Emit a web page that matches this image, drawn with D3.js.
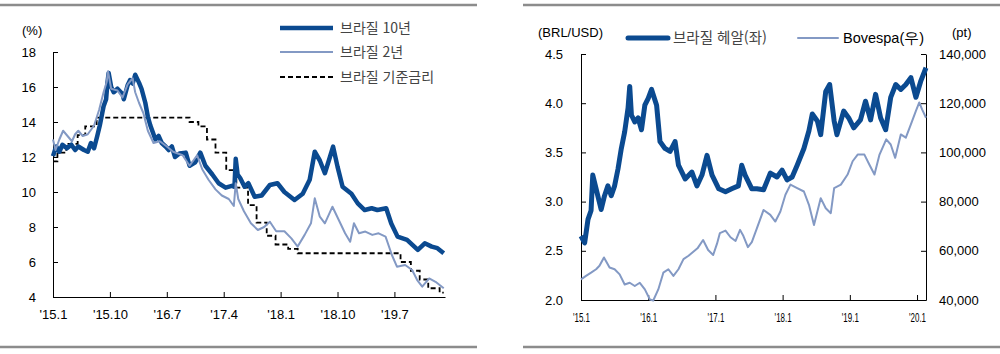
<!DOCTYPE html>
<html lang="ko">
<head>
<meta charset="UTF-8">
<title>Brazil rates, BRL and Bovespa</title>
<script src="https://d3js.org/d3.v7.min.js"></script>
<style>
  body { margin: 0; background: #fff; }
  svg text { font-family: "Liberation Sans", Arial, sans-serif; fill: #000; }
  .kr { font-family: "Noto Sans CJK KR", "Liberation Sans", sans-serif; fill: #444; }
</style>
</head>
<body>
<div id="chart"></div>
<script>
// months counted from Jan 2015 (0 = '15.1)
const br10 = [[0,12.05],[0.5,12.6],[1,12.3],[1.5,12.7],[2.2,12.5],[2.9,12.7],[3.5,12.4],[4,12.6],[4.9,12.4],[5.5,12.3],[6,12.8],[6.5,12.5],[7,13.2],[7.4,13.8],[8,14.9],[8.4,15.3],[8.6,16.2],[8.8,16.8],[9.2,16.0],[9.6,15.7],[10.2,15.9],[11,15.6],[11.2,15.3],[11.8,16.1],[12.2,16.4],[12.6,16.2],[13,16.7],[13.6,16.25],[14,15.9],[14.6,15.1],[15,14.3],[15.4,13.8],[16.2,13.0],[16.7,13.2],[17.2,12.8],[17.8,12.6],[18.3,12.4],[18.8,12.6],[19.3,12.0],[20,12.2],[21,12.25],[21.6,11.5],[22.5,11.7],[23.3,12.25],[24.1,11.5],[25.2,11.0],[26.2,10.5],[27.3,10.25],[28.3,10.35],[28.7,10.3],[28.9,11.9],[29.2,11.0],[29.6,10.8],[30.3,10.3],[30.9,10.5],[31.9,9.73],[33,9.8],[34.3,10.4],[35.5,10.5],[36.6,10.0],[38.2,9.54],[39.5,9.9],[40.6,10.7],[41.4,12.3],[42.2,11.8],[43,11.07],[43.8,12.0],[44.3,12.59],[45,11.45],[45.8,10.3],[46.5,10.1],[47.2,9.9],[48.2,9.35],[49.3,8.97],[50.4,9.07],[51.3,8.97],[52.7,9.07],[53.5,8.2],[54.5,7.45],[56,7.26],[57.7,6.69],[58.8,7.07],[59.9,6.88],[60.8,6.79],[61.8,6.5]];
const br2 = [[0,13.0],[0.4,12.4],[1,13.0],[1.6,13.5],[2.3,13.2],[3,12.9],[3.5,13.3],[4,13.5],[4.7,13.2],[5.5,13.3],[6.5,13.8],[7.3,14.7],[8,15.7],[8.5,16.3],[8.7,16.9],[9.2,15.9],[10.2,15.8],[11,15.4],[11.8,16.15],[12.6,16.5],[13,15.7],[13.6,15.1],[14.3,14.5],[15,13.5],[15.9,12.8],[16.9,12.9],[18,12.6],[19,12.3],[20.5,12.1],[21.6,11.5],[22.8,12.1],[23.6,11.3],[24.6,10.7],[25.7,10.15],[26.7,9.8],[27.8,9.6],[28.6,9.2],[28.9,10.5],[29.3,9.6],[30.2,8.9],[31.3,8.21],[32.4,7.83],[33.4,8.0],[34.3,8.3],[35.3,7.76],[36.6,7.76],[37.7,7.35],[38.7,6.88],[39.8,7.55],[40.8,8.21],[41.4,9.64],[42.2,8.59],[43,8.21],[44.2,9.16],[45.2,8.4],[46.2,7.64],[47,7.16],[47.6,8.21],[48.4,7.64],[49.4,7.74],[50.5,7.55],[51.5,7.64],[52.6,7.45],[53.6,6.4],[54.4,5.73],[55.7,5.83],[56.8,5.54],[57.6,4.97],[58.4,4.59],[59.5,5.06],[60.5,4.87],[61.8,4.5]];
const selic = [[0,11.75],[0.7,12.25],[2.1,12.75],[3.9,13.25],[5.1,13.75],[6.9,14.25],[21.6,14.0],[23,13.75],[24.35,13.0],[25.7,12.25],[27.4,11.25],[29,10.25],[30.85,9.25],[32.2,8.25],[33.8,7.5],[35.2,7.0],[37.2,6.75],[38.7,6.5],[54.97,6.0],[56.6,5.5],[58,5.0],[59.35,4.5],[61.15,4.25],[61.8,4.25]];
const leftTickMonths = [0, 9, 18, 27, 36, 45, 54];
const leftTickLabels = ["'15.1", "'15.10", "'16.7", "'17.4", "'18.1", "'18.10", "'19.7"];
const leftSeriesNames = ["브라질 10년", "브라질 2년", "브라질 기준금리"];

const brl = [[0,2.65],[0.65,2.58],[1.25,2.82],[1.8,2.91],[2.1,3.27],[2.7,3.13],[3.6,2.92],[4.2,3.06],[4.8,3.16],[5.4,3.06],[6,3.16],[6.6,3.33],[7.2,3.54],[7.8,3.71],[8.4,3.95],[8.7,4.17],[9,3.88],[9.6,3.81],[10.2,3.85],[10.8,3.73],[11.4,3.98],[12,4.05],[12.6,4.14],[13.5,3.98],[14.1,3.61],[15,3.54],[15.9,3.51],[16.8,3.61],[17.4,3.37],[18.6,3.23],[19.8,3.30],[20.7,3.16],[21.6,3.27],[22.5,3.47],[23.4,3.27],[24.6,3.13],[25.8,3.10],[26.9,3.13],[28.1,3.16],[28.7,3.37],[29.3,3.27],[30.5,3.13],[31.4,3.13],[32.6,3.12],[33.8,3.29],[35,3.25],[35.9,3.32],[36.8,3.22],[37.7,3.25],[38.6,3.37],[39.8,3.54],[40.7,3.72],[41.3,3.89],[42.2,3.82],[42.8,3.68],[43.7,4.12],[44.4,4.19],[45.2,3.82],[45.7,3.68],[46.9,3.92],[47.8,3.85],[48.7,3.75],[49.9,3.83],[50.8,4.02],[51.7,3.83],[52.6,4.09],[53.5,3.85],[54.4,3.73],[55.3,4.06],[56.2,4.19],[57.1,4.14],[58,4.19],[58.9,4.26],[59.8,4.06],[60.7,4.23],[61.6,4.36]];
const bovespa = [[0,48400],[0.9,49800],[1.8,51100],[2.7,52500],[3.3,53900],[4.1,57300],[5.1,53200],[6,52500],[6.9,50400],[7.8,46300],[8.7,47000],[9.6,45700],[10.5,47000],[11.4,44300],[12.3,40200],[12.9,39800],[13.8,44300],[14.7,51100],[15.6,52500],[16.5,49800],[17.4,52500],[18.3,56600],[19.2,58000],[20,59500],[20.8,61000],[21.8,64400],[22.7,60300],[23.6,58300],[24.3,63000],[24.8,67200],[25.8,68200],[26.7,65500],[27.6,64000],[28.4,68500],[29,66000],[29.8,61500],[30.5,63500],[31.4,69100],[32.6,76600],[33.8,74600],[34.7,71900],[35.6,76000],[36.5,82800],[37.4,86900],[38.6,85500],[39.8,84100],[40.7,78700],[41.6,70500],[42.8,81400],[43.7,77300],[44.6,75300],[45.2,85500],[46.4,86900],[47.6,91000],[48.5,96400],[49.4,99100],[50.6,99100],[51.5,95000],[52.4,91000],[53.3,99100],[54.5,105300],[55.3,103200],[56.1,97800],[57.1,107300],[58,106000],[58.9,111400],[59.8,116900],[60.4,120300],[60.9,117500],[61.6,114100]];
const rightTickMonths = [0, 12, 24, 36, 48, 60];
const rightTickLabels = ["'15.1", "'16.1", "'17.1", "'18.1", "'19.1", "'20.1"];
const rightSeriesNames = ["브라질 헤알(좌)", "Bovespa(우)"];

const dark = "#0b4a90", light = "#8399c4", frame = "#8c8c8c";

const svg = d3.select("#chart").append("svg")
  .attr("width", 1000).attr("height", 354);

function styleAxis(g) {
  g.selectAll("text").attr("font-family", null).attr("font-size", 13).attr("fill", "#000");
  g.selectAll("line, path").attr("stroke", "#000");
}

// ---------- left panel ----------
svg.append("line").attr("x1", 0).attr("x2", 477).attr("y1", 5).attr("y2", 5)
  .attr("stroke", frame).attr("stroke-width", 2.5);
svg.append("line").attr("x1", 0).attr("x2", 477).attr("y1", 347).attr("y2", 347)
  .attr("stroke", frame).attr("stroke-width", 2.5);

const xL = d3.scaleLinear().domain([0, 62]).range([53, 445]);
const yL = d3.scaleLinear().domain([4, 18]).range([297, 52]);

svg.append("g").attr("transform", "translate(53,0)")
  .call(d3.axisLeft(yL).tickValues([4,6,8,10,12,14,16,18]).tickSize(-5).tickSizeOuter(0).tickPadding(17))
  .call(styleAxis);
svg.append("g").attr("transform", "translate(0,297)")
  .call(d3.axisBottom(xL).tickValues(leftTickMonths).tickFormat((d, i) => leftTickLabels[i])
    .tickSize(-5).tickSizeOuter(0).tickPadding(13))
  .call(styleAxis);

svg.append("text").attr("x", 22).attr("y", 35).attr("font-size", 13).text("(%)");

const lineL = d3.line().x(d => xL(d[0])).y(d => yL(d[1]));
svg.append("path").datum(selic).attr("fill", "none").attr("stroke", "#000")
  .attr("stroke-width", 1.8).attr("stroke-dasharray", "5,3")
  .attr("d", d3.line().curve(d3.curveStepAfter).x(d => xL(d[0])).y(d => yL(d[1])));
svg.append("path").datum(br10).attr("fill", "none").attr("stroke", dark)
  .attr("stroke-width", 4.5).attr("stroke-linejoin", "round").attr("d", lineL);
svg.append("path").datum(br2).attr("fill", "none").attr("stroke", light)
  .attr("stroke-width", 2).attr("stroke-linejoin", "round").attr("d", lineL);

// legend
const legL = [
  { y: 28, stroke: dark, w: 4.5, dash: null },
  { y: 52, stroke: light, w: 2, dash: null },
  { y: 77, stroke: "#000", w: 2, dash: "5,3" }
];
legL.forEach((s, i) => {
  svg.append("line").attr("x1", 280).attr("x2", 333).attr("y1", s.y).attr("y2", s.y)
    .attr("stroke", s.stroke).attr("stroke-width", s.w).attr("stroke-dasharray", s.dash);
  svg.append("text").attr("class", "kr").attr("x", 340).attr("y", s.y + 5)
    .attr("font-size", 14).text(leftSeriesNames[i]);
});

// ---------- right panel ----------
svg.append("line").attr("x1", 523).attr("x2", 1000).attr("y1", 5).attr("y2", 5)
  .attr("stroke", frame).attr("stroke-width", 2.5);
svg.append("line").attr("x1", 523).attr("x2", 1000).attr("y1", 347).attr("y2", 347)
  .attr("stroke", frame).attr("stroke-width", 2.5);

const xR = d3.scaleLinear().domain([0, 61.6]).range([581, 926]);
const yR = d3.scaleLinear().domain([2, 4.5]).range([300, 54]);
const yR2 = d3.scaleLinear().domain([40000, 140000]).range([300, 54]);

svg.append("g").attr("transform", "translate(581,0)")
  .call(d3.axisLeft(yR).tickValues([2,2.5,3,3.5,4,4.5]).tickFormat(d3.format(".1f"))
    .tickSize(-5).tickSizeOuter(0).tickPadding(18))
  .call(styleAxis);
svg.append("g").attr("transform", "translate(926,0)")
  .call(d3.axisRight(yR2).tickValues([40000,60000,80000,100000,120000,140000]).tickFormat(d3.format(","))
    .tickSize(-5).tickSizeOuter(0).tickPadding(13))
  .call(styleAxis);
const gxR = svg.append("g").attr("transform", "translate(0,300)")
  .call(d3.axisBottom(xR).tickValues(rightTickMonths).tickFormat((d, i) => rightTickLabels[i])
    .tickSize(-5).tickSizeOuter(0).tickPadding(13))
  .call(styleAxis);
gxR.selectAll("text").attr("font-size", 13).attr("textLength", 17).attr("lengthAdjust", "spacingAndGlyphs");

svg.append("text").attr("x", 538).attr("y", 37).attr("font-size", 13).text("(BRL/USD)");
svg.append("text").attr("x", 952).attr("y", 37).attr("font-size", 13).text("(pt)");

svg.append("path").datum(bovespa).attr("fill", "none").attr("stroke", light)
  .attr("stroke-width", 2).attr("stroke-linejoin", "round")
  .attr("d", d3.line().x(d => xR(d[0])).y(d => yR2(d[1])));
svg.append("path").datum(brl).attr("fill", "none").attr("stroke", dark)
  .attr("stroke-width", 5).attr("stroke-linejoin", "round")
  .attr("d", d3.line().x(d => xR(d[0])).y(d => yR(d[1])));

const legR = [
  { x: 628, stroke: dark, w: 5 },
  { x: 798, stroke: light, w: 2 }
];
legR.forEach((s, i) => {
  svg.append("line").attr("x1", s.x).attr("x2", s.x + 40).attr("y1", 38).attr("y2", 38)
    .attr("stroke", s.stroke).attr("stroke-width", s.w).attr("stroke-linecap", "round");
  svg.append("text").attr("class", i === 0 ? "kr" : null).attr("x", s.x + 45).attr("y", 43)
    .attr("font-size", 14.5).text(rightSeriesNames[i]);
});
</script>
</body>
</html>
